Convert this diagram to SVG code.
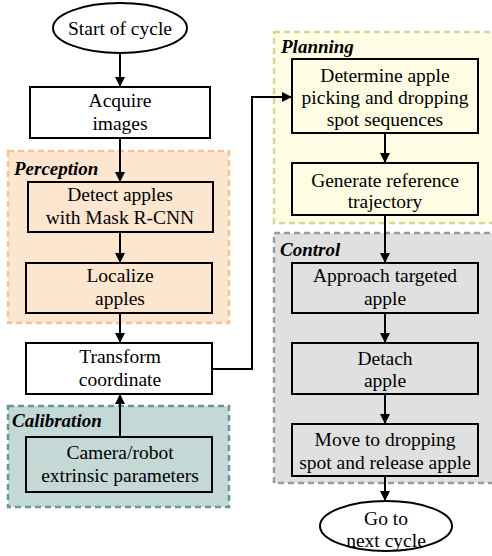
<svg xmlns="http://www.w3.org/2000/svg" width="492" height="556" viewBox="0 0 492 556">
<style>
.node{fill:none;stroke:#000;stroke-width:2}
.wnode{fill:#fff;stroke:#000;stroke-width:2}
.t{font-family:'Liberation Serif',serif;font-size:19.5px;fill:#000;text-anchor:middle}
.lbl{font-family:'Liberation Serif',serif;font-size:19px;font-weight:bold;font-style:italic;fill:#000}
.grp{stroke-width:2.5;stroke-dasharray:6 4}
.c{fill:none;stroke:#000;stroke-width:2}
</style>
<defs>
<marker id="ah" viewBox="0 0 10 10" refX="10" refY="5" markerWidth="5" markerHeight="5" orient="auto" markerUnits="strokeWidth">
<path d="M0,0 L10,5 L0,10 z" fill="#000"/>
</marker>
</defs>
<rect width="492" height="556" fill="#fff"/>
<g id="perception-group">
<rect class="grp" x="8" y="151" width="221" height="172" fill="#fde6cf" stroke="#f8c294"/>
<text class="lbl" x="14" y="175">Perception</text>
</g>
<g id="calibration-group">
<rect class="grp" x="8" y="406" width="221" height="101" fill="#c4d9d6" stroke="#5f9c99"/>
<text class="lbl" x="12" y="427">Calibration</text>
</g>
<g id="planning-group">
<rect class="grp" x="274" y="32" width="260" height="191" fill="#fefde4" stroke="#d5d59c"/>
<text class="lbl" x="281" y="53">Planning</text>
</g>
<g id="control-group">
<rect class="grp" x="274" y="233" width="260" height="250" fill="#e0e0e0" stroke="#9a9a9a"/>
<text class="lbl" x="280" y="256">Control</text>
</g>
<g id="start">
<ellipse class="wnode" cx="120" cy="28" rx="67" ry="25"/>
<text class="t" x="120" y="35">Start of cycle</text>
</g>
<g id="acquire">
<rect class="wnode" x="30" y="87" width="180" height="51"/>
<text class="t" x="120" y="107">Acquire</text>
<text class="t" x="120" y="130">images</text>
</g>
<g id="detect">
<rect class="node" x="28" y="182" width="185" height="50"/>
<text class="t" x="120" y="201">Detect apples</text>
<text class="t" x="120" y="224">with Mask R-CNN</text>
</g>
<g id="localize">
<rect class="node" x="26" y="263" width="186" height="50"/>
<text class="t" x="120" y="282">Localize</text>
<text class="t" x="120" y="305">apples</text>
</g>
<g id="transform">
<rect class="wnode" x="26" y="343" width="186" height="51"/>
<text class="t" x="120" y="363">Transform</text>
<text class="t" x="120" y="386">coordinate</text>
</g>
<g id="camera">
<rect class="node" x="26" y="437" width="186" height="55"/>
<text class="t" x="120" y="459">Camera/robot</text>
<text class="t" x="120" y="482">extrinsic parameters</text>
</g>
<g id="determine">
<rect class="node" x="292" y="59" width="186" height="74"/>
<text class="t" x="385" y="82">Determine apple</text>
<text class="t" x="385" y="104">picking and dropping</text>
<text class="t" x="385" y="126">spot sequences</text>
</g>
<g id="generate">
<rect class="node" x="292" y="163" width="186" height="52"/>
<text class="t" x="385" y="187">Generate reference</text>
<text class="t" x="385" y="208">trajectory</text>
</g>
<g id="approach">
<rect class="node" x="292" y="263" width="186" height="50"/>
<text class="t" x="385" y="282">Approach targeted</text>
<text class="t" x="385" y="305">apple</text>
</g>
<g id="detach">
<rect class="node" x="292" y="343" width="186" height="51"/>
<text class="t" x="385" y="365">Detach</text>
<text class="t" x="385" y="387">apple</text>
</g>
<g id="move">
<rect class="node" x="292" y="424" width="186" height="52"/>
<text class="t" x="385" y="446">Move to dropping</text>
<text class="t" x="385" y="469">spot and release apple</text>
</g>
<g id="goto">
<ellipse class="wnode" cx="386" cy="526" rx="66" ry="25"/>
<text class="t" x="386" y="525">Go to</text>
<text class="t" x="386" y="547">next cycle</text>
</g>
<g id="connectors">
<line class="c" x1="120" y1="53" x2="120" y2="87" marker-end="url(#ah)"/>
<line class="c" x1="120" y1="138" x2="120" y2="182" marker-end="url(#ah)"/>
<line class="c" x1="120" y1="232" x2="120" y2="263" marker-end="url(#ah)"/>
<line class="c" x1="120" y1="313" x2="120" y2="343" marker-end="url(#ah)"/>
<line class="c" x1="120" y1="437" x2="120" y2="394" marker-end="url(#ah)"/>
<polyline class="c" points="212,369 252,369 252,97 292,97" marker-end="url(#ah)"/>
<line class="c" x1="385" y1="133" x2="385" y2="163" marker-end="url(#ah)"/>
<line class="c" x1="385" y1="215" x2="385" y2="263" marker-end="url(#ah)"/>
<line class="c" x1="385" y1="313" x2="385" y2="343" marker-end="url(#ah)"/>
<line class="c" x1="385" y1="394" x2="385" y2="424" marker-end="url(#ah)"/>
<line class="c" x1="385" y1="476" x2="385" y2="501" marker-end="url(#ah)"/>
</g>
</svg>
